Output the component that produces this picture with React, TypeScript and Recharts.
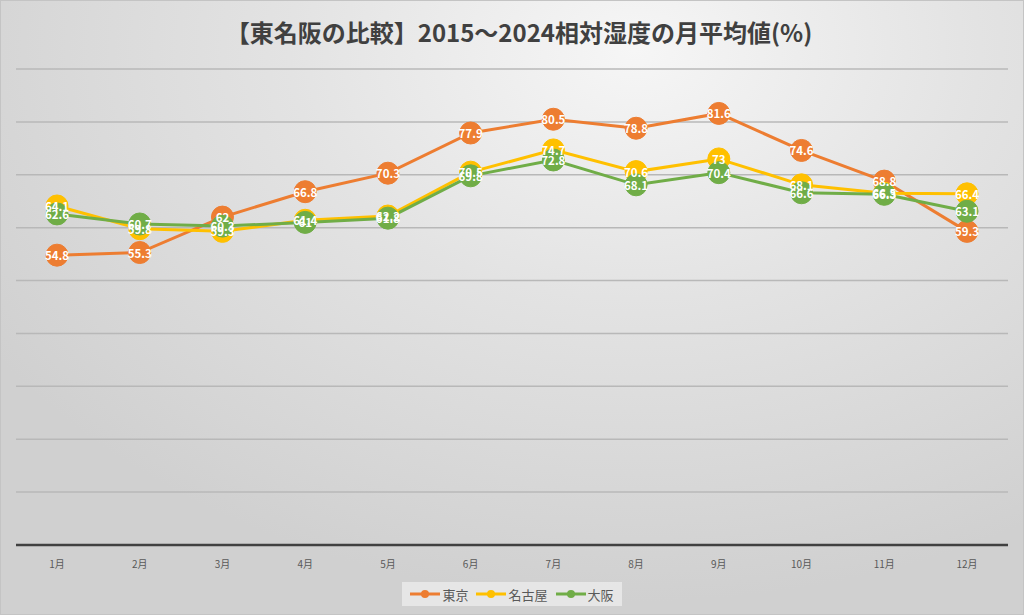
import React from 'react';
import { LineChart, Line, XAxis, YAxis, CartesianGrid, Legend, LabelList } from 'recharts';

const months = ['1月', '2月', '3月', '4月', '5月', '6月', '7月', '8月', '9月', '10月', '11月', '12月'];
const tokyo = [54.8, 55.3, 62, 66.8, 70.3, 77.9, 80.5, 78.8, 81.6, 74.6, 68.8, 59.3];
const nagoya = [64.1, 59.8, 59.3, 61.4, 62.2, 70.5, 74.7, 70.6, 73, 68.1, 66.5, 66.4];
const osaka = [62.6, 60.7, 60.3, 61, 61.8, 69.8, 72.8, 68.1, 70.4, 66.6, 66.3, 63.1];
const yTicks = [0, 10, 20, 30, 40, 50, 60, 70, 80, 90];

const series = [
  { key: 'tokyo', name: '東京', color: '#ED7D31' },
  { key: 'nagoya', name: '名古屋', color: '#FFC000' },
  { key: 'osaka', name: '大阪', color: '#70AD47' },
];

const data = months.map((m, i) => ({ month: m, tokyo: tokyo[i], nagoya: nagoya[i], osaka: osaka[i] }));

const font = '"Noto Sans CJK JP", "Noto Sans", sans-serif';

const PointLabel = (props: any) => {
  const { x, y, value } = props;
  if (x == null || y == null) return null;
  return (
    <text x={x} y={y} textAnchor="middle" dominantBaseline="central" fill="#ffffff"
      fontSize={11.5} fontWeight={600} fontFamily={font}>
      {value}
    </text>
  );
};

const LegendBox = () => (
  <div style={{ display: 'flex', justifyContent: 'center' }}>
    <div style={{ display: 'flex', alignItems: 'center', gap: 8, height: 24, padding: '0 8px',
      background: 'rgba(240,240,240,0.7)', fontFamily: font, fontSize: 13, color: '#595959' }}>
      {series.map((s) => (
        <span key={s.key} style={{ display: 'flex', alignItems: 'center' }}>
          <svg width={30} height={10}>
            <line x1={0} y1={5} x2={30} y2={5} stroke={s.color} strokeWidth={3} />
            <circle cx={15} cy={5} r={4} fill={s.color} />
          </svg>
          <span style={{ marginLeft: 2 }}>{s.name}</span>
        </span>
      ))}
    </div>
  </div>
);

export default function App() {
  return (
    <div style={{ position: 'absolute', left: 0, top: 0, width: 1024, height: 615, boxSizing: 'border-box',
      border: '1px solid #c4c4c4',
      background: 'radial-gradient(ellipse 75% 90% at 62% 8%, #f6f6f6 0%, #e3e3e3 45%, #d0d0d0 100%)' }}>
      <div style={{ position: 'absolute', top: 13, left: 0, width: 1036, textAlign: 'center',
        fontFamily: font, fontWeight: 700, fontSize: 24, color: '#404040' }}>
        【東名阪の比較】2015～2024相対湿度の月平均値(%)
      </div>
      <div style={{ position: 'absolute', left: -1, top: -1 }}>
        <LineChart width={1024} height={615} data={data} margin={{ top: 69, right: 16, left: 16, bottom: 9 }}>
          <CartesianGrid horizontal vertical={false} stroke="#b8b8b8" strokeWidth={1.5} />
          <XAxis dataKey="month" height={37} tickLine={false} axisLine={{ stroke: '#404040', strokeWidth: 2.5 }}
            tick={{ fontSize: 10, fill: '#595959', fontFamily: font }} tickMargin={10} interval={0}
            padding={{ left: 41, right: 41 }} />
          <YAxis hide domain={[0, 90]} ticks={yTicks} />
          <Legend verticalAlign="bottom" height={24} content={<LegendBox />} />
          {series.map((s) => (
            <Line key={s.key} dataKey={s.key} name={s.name} stroke={s.color} strokeWidth={3}
              dot={{ r: 11, fill: s.color, stroke: s.color, strokeWidth: 1 }} activeDot={false}
              isAnimationActive={false} />
          ))}
          {series.map((s) => (
            <Line key={s.key + '-lbl'} dataKey={s.key} stroke="none" dot={false} activeDot={false}
              legendType="none" isAnimationActive={false}>
              <LabelList dataKey={s.key} content={<PointLabel />} />
            </Line>
          ))}
        </LineChart>
      </div>
    </div>
  );
}
